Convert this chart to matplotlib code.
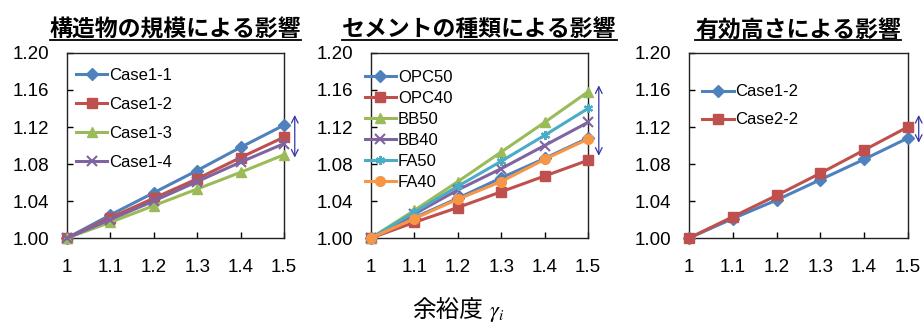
import matplotlib
matplotlib.use("Agg")
import matplotlib.pyplot as plt

plt.rcParams["font.family"] = ["Liberation Sans", "Noto Sans CJK JP", "DejaVu Sans"]

x_vals = [1.0, 1.1, 1.2, 1.3, 1.4, 1.5]
x_labels = ["1", "1.1", "1.2", "1.3", "1.4", "1.5"]
y_ticks = [1.00, 1.04, 1.08, 1.12, 1.16, 1.20]

# panel 1: scale of structure
scale_names = ["Case1-1", "Case1-2", "Case1-3", "Case1-4"]
case1_1 = [1.000, 1.025, 1.049, 1.073, 1.098, 1.122]
case1_2 = [1.000, 1.022, 1.043, 1.064, 1.087, 1.109]
case1_3 = [1.000, 1.017, 1.035, 1.053, 1.071, 1.090]
case1_4 = [1.000, 1.020, 1.040, 1.061, 1.082, 1.102]

# panel 2: cement type
cement_names = ["OPC50", "OPC40", "BB50", "BB40", "FA50", "FA40"]
opc50 = [1.000, 1.022, 1.043, 1.065, 1.086, 1.108]
opc40 = [1.000, 1.017, 1.033, 1.050, 1.067, 1.084]
bb50 = [1.000, 1.030, 1.061, 1.093, 1.125, 1.158]
bb40 = [1.000, 1.026, 1.052, 1.075, 1.100, 1.125]
fa50 = [1.000, 1.028, 1.056, 1.083, 1.111, 1.140]
fa40 = [1.000, 1.021, 1.042, 1.061, 1.085, 1.107]

# panel 3: effective height
height_names = ["Case1-2", "Case2-2"]
h_case1_2 = [1.000, 1.021, 1.041, 1.063, 1.085, 1.108]
h_case2_2 = [1.000, 1.023, 1.046, 1.070, 1.095, 1.120]

titles = ["構造物の規模による影響", "セメントの種類による影響", "有効高さによる影響"]
arrow_spans = [(1.087, 1.133), (1.089, 1.165), (1.103, 1.133)]

BLUE = "#4F81BD"
RED = "#C0504D"
GREEN = "#9BBB59"
PURPLE = "#8064A2"
AQUA = "#4BACC6"
ORANGE = "#F79646"
ARROW = "#3535A5"

panels = [
    (titles[0], scale_names, [case1_1, case1_2, case1_3, case1_4],
     [BLUE, RED, GREEN, PURPLE], ["D", "s", "^", "x"], 0.85),
    (titles[1], cement_names, [opc50, opc40, bb50, bb40, fa50, fa40],
     [BLUE, RED, GREEN, PURPLE, AQUA, ORANGE], ["D", "s", "^", "x", (6, 2, 0), "o"], 0.36),
    (titles[2], height_names, [h_case1_2, h_case2_2],
     [BLUE, RED], ["D", "s"], 0.78),
]
lefts = [0.0726, 0.402, 0.7465]
widths = [0.235, 0.235, 0.237]
# legend anchor (axes fraction) of the upper-left corner
legend_anchor = [(0.04, 0.92), (-0.03, 0.91), (0.06, 0.83)]

fig = plt.figure(figsize=(9.23, 3.27), dpi=100)

for i, (title, names, series, colors, markers, spacing) in enumerate(panels):
    ax = fig.add_axes([lefts[i], 0.272, widths[i], 0.566])
    for name, ys, c, m in zip(names, series, colors, markers):
        ms = 7 if m in ("s", "o") else 6.5
        mew = 1.5 if m in ("x", (6, 2, 0)) else 1
        ax.plot(x_vals, ys, color=c, lw=2.2, marker=m, ms=ms, mew=mew,
                mec=c, mfc=c, label=name, clip_on=False, zorder=3)
    ax.set_xlim(1.0, 1.5)
    ax.set_ylim(1.0, 1.2)
    ax.set_xticks(x_vals)
    ax.set_xticklabels(x_labels)
    ax.set_yticks(y_ticks)
    ax.set_yticklabels([f"{v:.2f}" for v in y_ticks])
    ax.tick_params(direction="in", length=4, width=1, labelsize=13.5)
    ax.tick_params(axis="x", pad=15)
    ax.tick_params(axis="y", pad=13)
    for sp in ax.spines.values():
        sp.set_linewidth(1)
        sp.set_color("#222222")
    ax.set_title(title, fontsize=16.5, fontweight="bold", pad=12,
                 family=["Noto Sans CJK JP", "DejaVu Sans"])
    t = ax.title
    # underline the title
    fig.canvas.draw()
    bb = t.get_window_extent().transformed(fig.transFigure.inverted())
    fig.add_artist(plt.Line2D([bb.x0, bb.x1], [bb.y0 + 0.005, bb.y0 + 0.005],
                              color="black", lw=1.3, transform=fig.transFigure))

    ax.legend(loc="upper left", bbox_to_anchor=legend_anchor[i],
              frameon=False, fontsize=12, handlelength=1.9, handletextpad=0.1,
              labelspacing=spacing, borderaxespad=0.0, borderpad=0.0)

    lo, hi = arrow_spans[i]
    ax.annotate("", xy=(1.05, hi), xytext=(1.05, lo),
                xycoords=("axes fraction", "data"), textcoords=("axes fraction", "data"),
                arrowprops=dict(arrowstyle="<->", color=ARROW, lw=0.9,
                                mutation_scale=12, shrinkA=0, shrinkB=0),
                annotation_clip=False)

fig.text(0.446, 0.012, "余裕度", fontsize=17, ha="left", va="bottom",
         family=["Noto Sans CJK JP", "DejaVu Sans"])
fig.text(0.530, 0.01, r"$\gamma_i$", fontsize=16, ha="left", va="bottom",
         math_fontfamily="stix")

fig.savefig("out.png", dpi=100)
